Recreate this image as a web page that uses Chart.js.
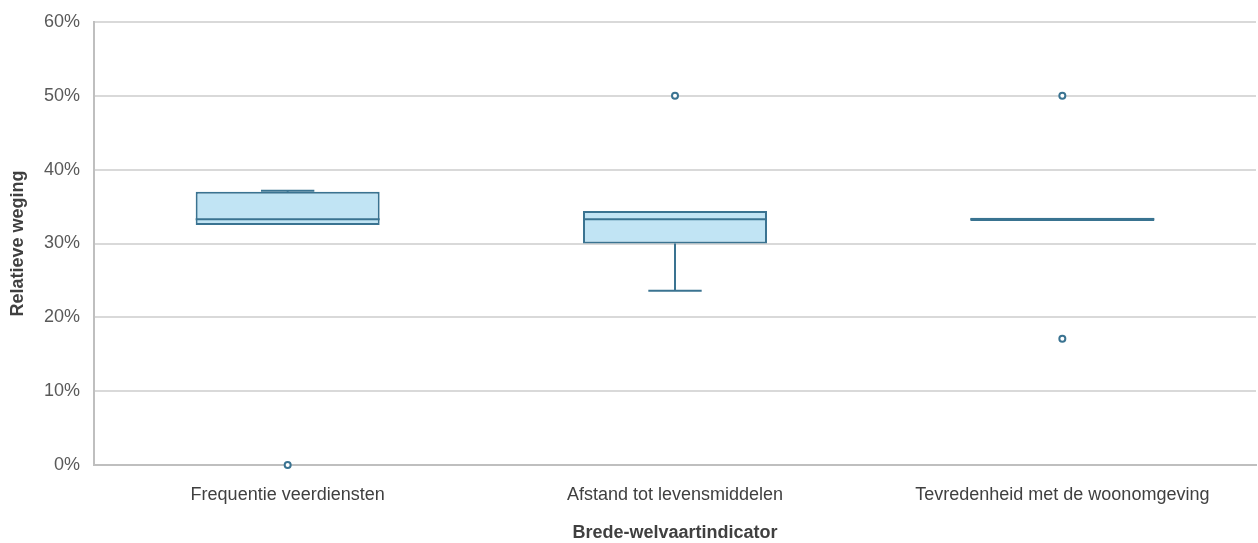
<!DOCTYPE html>
<html><head><meta charset="utf-8">
<script src="https://cdn.jsdelivr.net/npm/chart.js@4/dist/chart.umd.min.js"></script>
<style>html,body{margin:0;padding:0;background:#fff}#wrap{width:1258px;height:543px}</style>
</head><body><div id="wrap"><canvas id="c" width="1258" height="543"></canvas></div>
<script>
const categories = ['Frequentie veerdiensten', 'Afstand tot levensmiddelen', 'Tevredenheid met de woonomgeving'];
const q1 = [32.5, 30.0, 33.05];
const q3 = [37.0, 34.4, 33.5];
const medians = [33.3, 33.3, 33.3];
const whiskerLow = [32.5, 23.6, 33.05];
const whiskerHigh = [37.15, 34.4, 33.5];
const outliers = [[0], [50], [50, 17.1]];
const yTicks = [0, 10, 20, 30, 40, 50, 60];

const stroke = '#3A7391';
const fill = '#C1E4F4';
const font = "'Liberation Sans', Arial, sans-serif";

const outlierPoints = [];
outliers.forEach((arr, i) => arr.forEach(v => outlierPoints.push({x: categories[i], y: v})));

const boxPlugin = {
  id: 'boxParts',
  afterDatasetsDraw(chart) {
    const ctx = chart.ctx, ys = chart.scales.y;
    const meta = chart.getDatasetMeta(0);
    ctx.save();
    ctx.strokeStyle = stroke;
    ctx.lineWidth = 2;
    meta.data.forEach((bar, i) => {
      const x = bar.x, w = bar.width;
      const l = x - w / 2, r = x + w / 2;
      const cap = w * 0.145;
      const ym = ys.getPixelForValue(medians[i]);
      ctx.beginPath(); ctx.moveTo(l, ym); ctx.lineTo(r, ym); ctx.stroke();
      const yq1 = ys.getPixelForValue(q1[i]), yq3 = ys.getPixelForValue(q3[i]);
      const yl = ys.getPixelForValue(whiskerLow[i]), yh = ys.getPixelForValue(whiskerHigh[i]);
      if (whiskerLow[i] < q1[i]) {
        ctx.beginPath(); ctx.moveTo(x, yq1); ctx.lineTo(x, yl); ctx.stroke();
        ctx.beginPath(); ctx.moveTo(x - cap, yl); ctx.lineTo(x + cap, yl); ctx.stroke();
      }
      if (whiskerHigh[i] > q3[i]) {
        ctx.beginPath(); ctx.moveTo(x, yq3); ctx.lineTo(x, yh); ctx.stroke();
        ctx.beginPath(); ctx.moveTo(x - cap, yh); ctx.lineTo(x + cap, yh); ctx.stroke();
      }
    });
    ctx.restore();
  }
};

new Chart(document.getElementById('c'), {
  type: 'bar',
  data: {
    labels: categories,
    datasets: [{
      type: 'bar',
      data: categories.map((c, i) => [q1[i], q3[i]]),
      backgroundColor: fill,
      borderColor: stroke,
      borderWidth: 2,
      borderSkipped: false,
      categoryPercentage: 1,
      barPercentage: 0.475,
      order: 2
    }, {
      type: 'line',
      data: outlierPoints,
      showLine: false,
      clip: false,
      pointRadius: 3,
      pointBorderWidth: 2,
      pointBorderColor: stroke,
      pointBackgroundColor: '#ffffff',
      order: 1
    }]
  },
  options: {
    responsive: false,
    animation: false,
    devicePixelRatio: 1,
    layout: {autoPadding: false, padding: {top: 22, right: 2, left: 0, bottom: 0}},
    plugins: {legend: {display: false}, tooltip: {enabled: false}},
    scales: {
      x: {
        grid: {display: false, drawTicks: false},
        border: {display: true, color: '#BFBFBF', width: 2},
        ticks: {color: '#404040', font: {family: font, size: 18}, padding: 19},
        title: {display: true, text: 'Brede-welvaartindicator', color: '#404040', font: {family: font, size: 18, weight: 'bold'}, padding: {top: 0, bottom: -1}},
        afterFit(s) { s.height = 78; }
      },
      y: {
        min: 0, max: 60,
        afterBuildTicks(s) { s.ticks = yTicks.map(v => ({value: v})); },
        grid: {color: '#D9D9D9', lineWidth: 2, drawTicks: false},
        border: {display: true, color: '#BFBFBF', width: 2},
        ticks: {color: '#595959', font: {family: font, size: 18}, padding: 14, callback: v => v + '%'},
        title: {display: true, text: 'Relatieve weging', color: '#404040', font: {family: font, size: 18, weight: 'bold'}, padding: {top: 7, bottom: 0}},
        afterFit(s) { s.width = 94; s.paddingTop = 0; s.paddingBottom = 0; }
      }
    }
  },
  plugins: [boxPlugin]
});
</script></body></html>
